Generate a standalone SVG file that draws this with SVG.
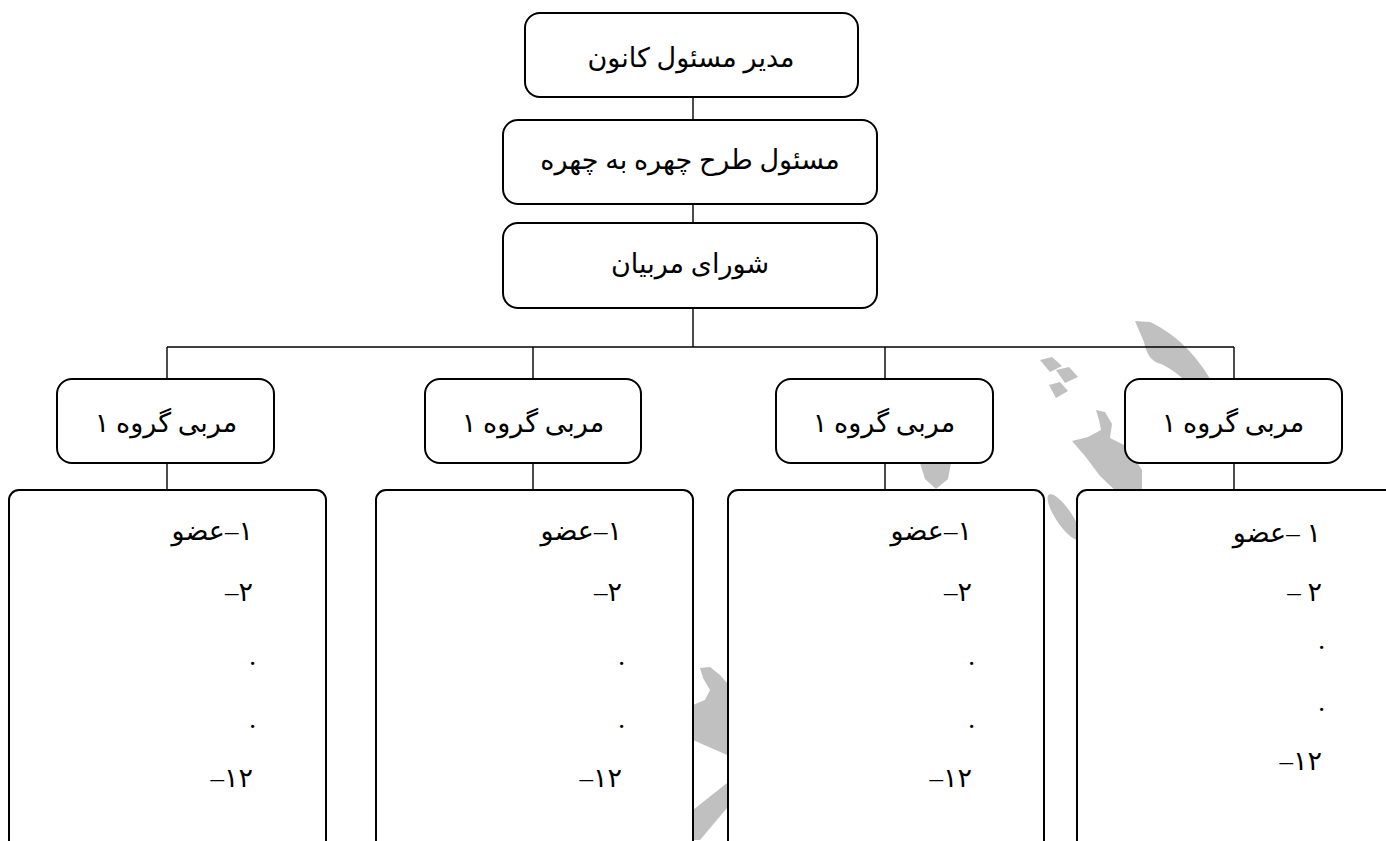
<svg xmlns="http://www.w3.org/2000/svg" width="1386" height="841" viewBox="0 0 1386 841">
<style>
.box{fill:#fff;stroke:#000;stroke-width:2}
.ln{stroke:#000;stroke-width:1.4;fill:none}
.wm{fill:#c0c0c0;stroke:none}
.t{font-family:"Liberation Serif","DejaVu Sans",serif;font-size:27px;fill:#000}
.c{text-anchor:middle}
.r{direction:rtl;text-anchor:start}
</style>
<rect x="0" y="0" width="1386" height="841" fill="#fff"/>
<g id="watermark">
<path class="wm" d="M1135,321 L1150,322 C1172,332 1195,352 1212,382 L1190,385 C1178,374 1168,366 1158,363 C1150,360 1146,352 1144,342 Z"/>
<path class="wm" d="M1040,360 L1052,357 L1062,366 L1050,372 Z"/>
<path class="wm" d="M1056,370 L1069,367 L1078,377 L1065,383 Z"/>
<path class="wm" d="M1049,385 L1060,382 L1068,391 L1056,398 Z"/>
<path class="wm" d="M1096,410 L1105,412 L1112,424 L1110,438 L1126,446 L1142,470 L1142,495 L1120,495 L1100,476 L1085,456 L1072,441 L1088,437 L1101,430 L1099,420 Z"/>
<ellipse class="wm" cx="1064" cy="517" rx="27" ry="8" transform="rotate(56 1064 517)"/>
<path class="wm" d="M920,463 L951,463 L948,479 L936,489 L925,479 Z"/>
<path class="wm" d="M700,668 L710,667 L720,675 L727,683 L727,755 L693,740 L693,705 L705,700 L710,690 L703,678 Z"/>
<path class="wm" d="M727,783 L727,808 L700,840 L693,840 L693,810 Z"/>
</g>
<g id="connectors">
<line class="ln" x1="693" y1="97" x2="693" y2="120"/>
<line class="ln" x1="693" y1="204" x2="693" y2="223"/>
<line class="ln" x1="693" y1="308" x2="693" y2="347"/>
<line class="ln" x1="167" y1="347" x2="1234" y2="347"/>
<line class="ln" x1="167" y1="347" x2="167" y2="379"/>
<line class="ln" x1="533" y1="347" x2="533" y2="379"/>
<line class="ln" x1="885" y1="347" x2="885" y2="379"/>
<line class="ln" x1="1234" y1="347" x2="1234" y2="379"/>
<line class="ln" x1="167" y1="463" x2="167" y2="490"/>
<line class="ln" x1="533" y1="463" x2="533" y2="490"/>
<line class="ln" x1="885" y1="463" x2="885" y2="490"/>
<line class="ln" x1="1234" y1="463" x2="1234" y2="490"/>
</g>
<g id="director">
<rect class="box" x="525" y="13" width="333" height="84" rx="15"/>
<text class="t c" x="691" y="67">مدیر مسئول کانون</text>
</g>
<g id="f2f">
<rect class="box" x="503" y="120" width="374" height="84" rx="15"/>
<text class="t c" x="690" y="169">مسئول طرح چهره به چهره</text>
</g>
<g id="council">
<rect class="box" x="503" y="223" width="374" height="85" rx="15"/>
<text class="t c" x="690" y="273">شورای مربیان</text>
</g>
<g id="coach1">
<rect class="box" x="57" y="379" width="217" height="84" rx="15"/>
<text class="t c" x="166" y="432">مربی گروه ۱</text>
</g>
<g id="coach2">
<rect class="box" x="425" y="379" width="216" height="84" rx="15"/>
<text class="t c" x="533" y="432">مربی گروه ۱</text>
</g>
<g id="coach3">
<rect class="box" x="776" y="379" width="217" height="84" rx="15"/>
<text class="t c" x="884" y="432">مربی گروه ۱</text>
</g>
<g id="coach4">
<rect class="box" x="1125" y="379" width="217" height="84" rx="15"/>
<text class="t c" x="1233" y="432">مربی گروه ۱</text>
</g>
<g id="members1">
<rect class="box" x="9" y="490" width="317" height="380" rx="10"/>
<text class="t r" x="253" y="540">۱–عضو</text>
<text class="t r" x="253" y="601">۲–</text>
<text class="t r" x="256" y="665">.</text>
<text class="t r" x="256" y="728">.</text>
<text class="t r" x="253" y="787">۱۲–</text>
</g>
<g id="members2">
<rect class="box" x="376" y="490" width="317" height="380" rx="10"/>
<text class="t r" x="622" y="540">۱–عضو</text>
<text class="t r" x="622" y="601">۲–</text>
<text class="t r" x="625" y="665">.</text>
<text class="t r" x="625" y="728">.</text>
<text class="t r" x="622" y="787">۱۲–</text>
</g>
<g id="members3">
<rect class="box" x="728" y="490" width="316" height="380" rx="10"/>
<text class="t r" x="972" y="540">۱–عضو</text>
<text class="t r" x="972" y="601">۲–</text>
<text class="t r" x="975" y="665">.</text>
<text class="t r" x="975" y="728">.</text>
<text class="t r" x="972" y="787">۱۲–</text>
</g>
<g id="members4">
<rect class="box" x="1077" y="490" width="330" height="380" rx="10"/>
<text class="t r" x="1321" y="542">۱ –عضو</text>
<text class="t r" x="1322" y="601">۲ –</text>
<text class="t r" x="1325" y="649">.</text>
<text class="t r" x="1325" y="711">.</text>
<text class="t r" x="1322" y="770">۱۲–</text>
</g>
</svg>
